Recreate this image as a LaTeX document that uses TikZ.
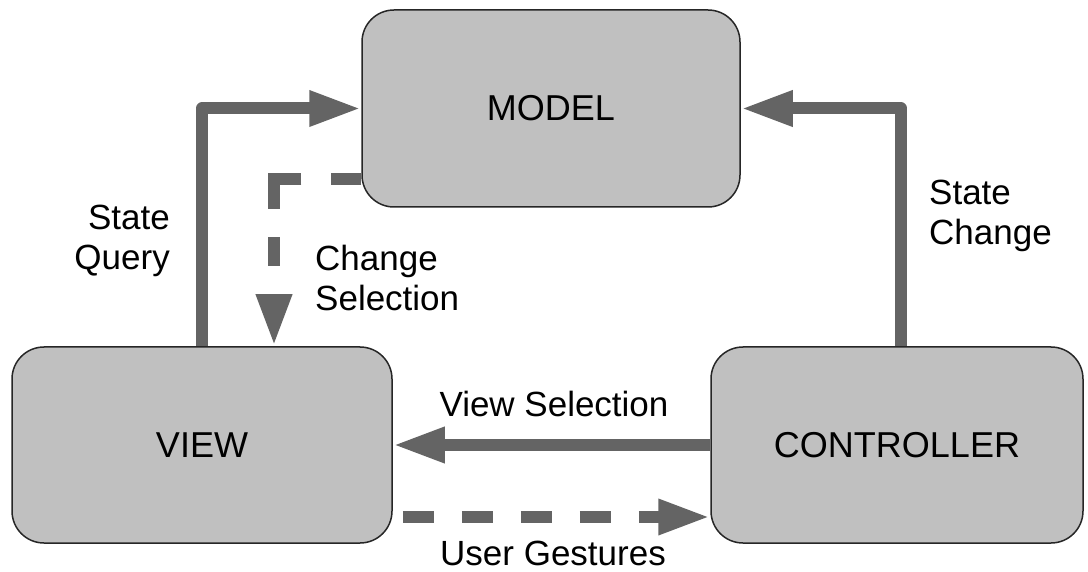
\documentclass[tikz,border=0pt]{standalone}
\usepackage{fontspec}
\setmainfont{Liberation Sans}
\usetikzlibrary{arrows.meta,calc}
\definecolor{boxfill}{HTML}{C0C0C0}
\definecolor{flow}{HTML}{646464}
\definecolor{edge}{HTML}{262626}
\begin{document}
\begin{tikzpicture}[x=1pt,y=-1pt,
  block/.style={draw=edge, line width=1.5pt, fill=boxfill, rounded corners=32pt,
    inner sep=0pt, font=\fontsize{36}{42}\selectfont},
  flowline/.style={draw=flow, line width=12pt, line join=round,
    -{Triangle[length=52pt,width=33pt]}},
  lbl/.style={font=\fontsize{35}{40}\selectfont, inner sep=0pt}
]
% canvas
\fill[white] (0,0) rectangle (1088,572);
\useasboundingbox (0,0) rectangle (1088,572);

% the three components
\node[block, minimum width=378pt, minimum height=197pt] (model) at (551,108.5) {MODEL};
\node[block, minimum width=380pt, minimum height=196pt] (view) at (202,445) {VIEW};
\node[block, minimum width=372pt, minimum height=196pt] (controller) at (897,445) {CONTROLLER};

% solid flows
\draw[flowline] (view.north) |- (model.west);
\draw[flowline] ($(controller.north)+(4,0)$) |- (model.east);
\draw[flowline] (controller.west) -- (view.east);

% dashed notifications
\coordinate (ugs) at ($(view.east)+(10,72)$);
\draw[flowline, line join=miter, dash pattern=on 31pt off 28pt]
  (ugs) -- (controller.west |- ugs);
\coordinate (csa) at ($(model.west)+(0,71)$);
\coordinate (csb) at ($(view.north)+(72,0)$);
\draw[flowline, line join=miter,
  dash pattern=on 30pt off 30pt on 57pt off 28pt on 29pt off 28pt]
  (csa) -| (csb);

% labels
\node[lbl, anchor=north east, align=right] (sq) at (170,205) {State\\Query};
\node[lbl, anchor=north west, align=left] (sc) at (929,180) {State\\Change};
\node[lbl, anchor=north west, align=left] (cs) at (315,245) {Change\\Selection};
\node[lbl, anchor=north] (vs) at (554,391) {View Selection};
\node[lbl, anchor=north] (ug) at (553,541) {User Gestures};
\end{tikzpicture}
\end{document}
